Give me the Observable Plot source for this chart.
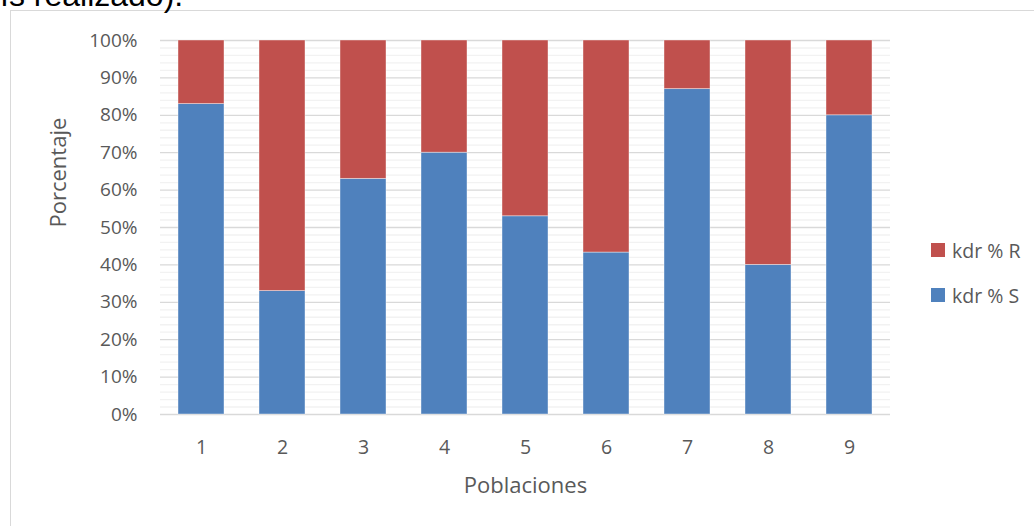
<!DOCTYPE html>
<html>
<head>
<meta charset="utf-8">
<script src="https://cdn.jsdelivr.net/npm/d3@7"></script>
<script src="https://cdn.jsdelivr.net/npm/@observablehq/plot@0.6"></script>
<style>
  html, body { margin: 0; padding: 0; background: #fff; }
  #wrap { position: relative; width: 1034px; height: 526px; overflow: hidden; font-family: "Open Sans", sans-serif; }
  #wrap svg { position: absolute; left: 0; top: 0; }
  #frame { position: absolute; left: 10px; top: 10px; width: 1100px; height: 600px; border-left: 1.5px solid #d9d9d9; border-top: 1.5px solid #d9d9d9; }
  #toptext { position: absolute; left: 0px; top: -21px; font-family: "Liberation Sans", sans-serif; font-size: 32px; line-height: 32px; color: #000; white-space: nowrap; }
  .leg { position: absolute; left: 931px; display: flex; align-items: center; font-size: 19.5px; color: #595959; white-space: nowrap; }
  .leg .sw { width: 14px; height: 14px; margin-right: 7px; }
</style>
</head>
<body>
<div id="wrap">
  <div id="frame"></div>
  <div id="toptext">ís realizado).</div>
</div>
<script>
const poblaciones = ["1", "2", "3", "4", "5", "6", "7", "8", "9"];
const kdrS = [83, 33, 63, 70, 53, 43.3, 87, 40, 80];
const kdrR = [17, 67, 37, 30, 47, 56.7, 13, 60, 20];
const series = ["kdr % S", "kdr % R"];
const colors = ["#4F81BD", "#C0504D"];
const yTicks = [0, 10, 20, 30, 40, 50, 60, 70, 80, 90, 100];
const yMinor = d3.range(0, 101, 2).filter(v => v % 10 !== 0);

const rows = [];
poblaciones.forEach((p, i) => {
  rows.push({pob: p, serie: series[0], val: kdrS[i] / 100});
  rows.push({pob: p, serie: series[1], val: kdrR[i] / 100});
});

const chart = Plot.plot({
  width: 1034,
  height: 526,
  marginLeft: 160,
  marginRight: 144,
  marginTop: 40,
  marginBottom: 112,
  style: {fontFamily: "'Open Sans', sans-serif", color: "#595959", background: "transparent"},
  x: {type: "band", domain: poblaciones, paddingInner: 0.43, paddingOuter: 0.215, label: null},
  y: {domain: [0, 1], label: null},
  color: {domain: series, range: colors},
  marks: [
    Plot.ruleY(yMinor.map(v => v / 100), {stroke: "#f2f2f2", strokeWidth: 1.3}),
    Plot.ruleY(yTicks.map(v => v / 100), {stroke: "#d9d9d9", strokeWidth: 1.3}),
    Plot.barY(rows, {x: "pob", y: "val", fill: "serie", stroke: "white", strokeWidth: 0.8, strokeOpacity: 0.5, order: series}),
    Plot.axisY({ticks: yTicks.map(v => v / 100), tickFormat: d => Math.round(d * 100) + "%", tickSize: 0, tickPadding: 23, fontSize: 19, label: null}),
    Plot.axisX({tickSize: 0, tickPadding: 26, fontSize: 19.5, label: null}),
    Plot.text(["Poblaciones"], {frameAnchor: "bottom", dy: 71.5, fontSize: 22, fill: "#595959", lineAnchor: "middle"}),
    Plot.text(["Porcentaje"], {frameAnchor: "left", dx: -102, rotate: -90, fontSize: 22, fill: "#595959", lineAnchor: "middle"})
  ]
});
const wrap = document.getElementById("wrap");
wrap.appendChild(chart);

[["kdr % R", colors[1], 250], ["kdr % S", colors[0], 295]].forEach(([t, c, cy]) => {
  const d = document.createElement("div");
  d.className = "leg";
  d.style.top = (cy - 15) + "px";
  d.style.height = "30px";
  d.innerHTML = `<div class="sw" style="background:${c}"></div><span>${t}</span>`;
  wrap.appendChild(d);
});
</script>
</body>
</html>
